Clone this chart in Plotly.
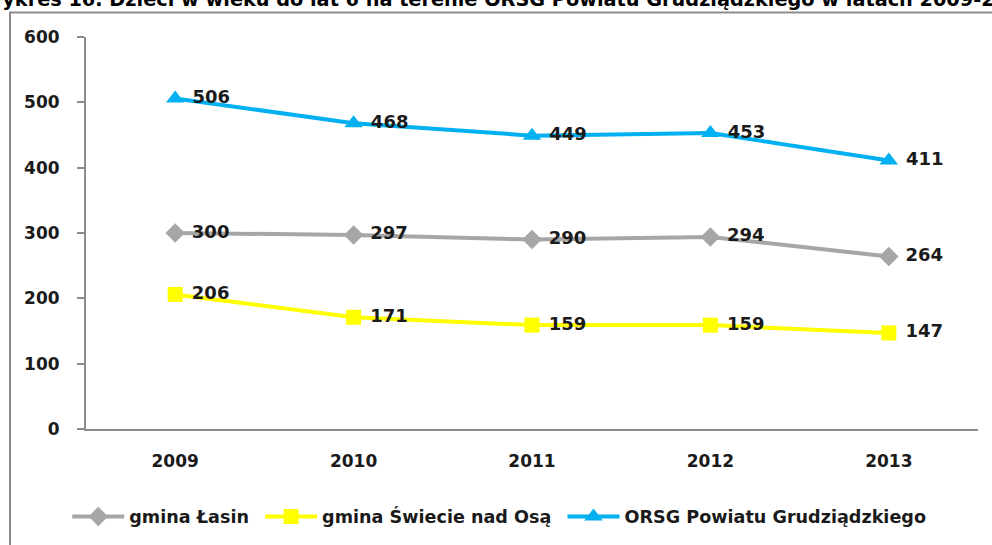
import plotly.graph_objects as go

years = ["2009", "2010", "2011", "2012", "2013"]
lasin = [300, 297, 290, 294, 264]
swiecie = [206, 171, 159, 159, 147]
orsg = [506, 468, 449, 453, 411]
names = ["gmina Łasin", "gmina Świecie nad Osą", "ORSG Powiatu Grudziądzkiego"]
title_text = "Wykres 16. Dzieci w wieku do lat 6 na terenie ORSG Powiatu Grudziądzkiego w latach 2009-2013"
y_ticks = [0, 100, 200, 300, 400, 500, 600]

FONT = "DejaVu Sans"
NB = "\u00a0"
fig = go.Figure()

series = [
    (lasin, names[0], "#A6A6A6", "diamond", 15),
    (swiecie, names[1], "#FFFF00", "square", 15),
    (orsg, names[2], "#00B0F0", "triangle-up", 16),
]
for vals, nm, col, sym, sz in series:
    fig.add_trace(go.Scatter(
        x=years, y=vals, name=nm + NB, mode="lines+markers+text",
        line=dict(color=col, width=4),
        marker=dict(color=col, symbol=sym, size=sz),
        text=[NB + str(v) for v in vals], textposition="middle right",
        textfont=dict(family=FONT, size=18, color="#1a1a1a", weight="bold"),
        cliponaxis=False,
    ))

fig.add_annotation(
    text="<b>" + title_text + "</b>", xref="paper", yref="paper",
    x=0, y=1, xanchor="left", yanchor="bottom", showarrow=False,
    xshift=-107, yshift=24, font=dict(family=FONT, size=19.3, color="#000000"),
)

fig.add_shape(type="rect", xref="paper", yref="paper",
              x0=-0.0852, x1=1.2, y0=-0.5, y1=1.0628,
              line=dict(color="#8C8C8C", width=2), fillcolor="rgba(0,0,0,0)", layer="below")

fig.update_layout(
    width=992, height=545,
    margin=dict(l=86, r=14, t=37, b=115),
    plot_bgcolor="white", paper_bgcolor="white",
    font=dict(family=FONT, size=17, color="#1a1a1a"),
    legend=dict(orientation="h", x=-0.021, y=-0.22, xanchor="left", yanchor="middle",
                font=dict(family=FONT, size=17.6, color="#1a1a1a", weight="bold"),
                itemwidth=52, bgcolor="rgba(0,0,0,0)"),
    showlegend=True,
)
fig.update_xaxes(
    type="category", range=[-0.5, 4.5], showline=True, linecolor="#8C8C8C", linewidth=2,
    showgrid=False, ticks="", ticklabelstandoff=16,
    tickfont=dict(family=FONT, size=17, color="#1a1a1a", weight="bold"),
)
fig.update_yaxes(
    range=[0, 600], tickvals=y_ticks, showline=True, linecolor="#8C8C8C", linewidth=2,
    showgrid=False, ticks="outside", ticklen=7, tickcolor="#8C8C8C", tickwidth=2,
    ticklabelstandoff=14, zeroline=False,
    tickfont=dict(family=FONT, size=17, color="#1a1a1a", weight="bold"),
)

fig.write_html("out.html", config={"displayModeBar": False},
               post_script="document.body.style.margin='0';document.body.style.overflow='hidden';")
